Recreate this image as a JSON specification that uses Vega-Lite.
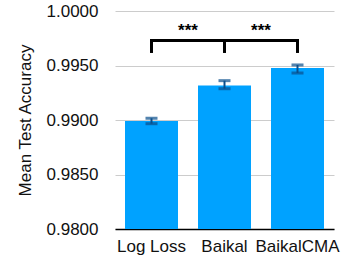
{
  "$schema": "https://vega.github.io/schema/vega-lite/v6.json",
  "width": 219,
  "height": 218,
  "autosize": {"type": "none"},
  "padding": {"left": 115, "top": 11, "right": 9, "bottom": 32},
  "background": "white",
  "config": {
    "font": "Liberation Sans",
    "view": {"stroke": null}
  },
  "datasets": {
    "acc": [
      {"loss": "Log Loss", "mean": 0.9899, "lo": 0.98966, "hi": 0.99016, "base": 0.98},
      {"loss": "Baikal", "mean": 0.99317, "lo": 0.99287, "hi": 0.99361, "base": 0.98},
      {"loss": "BaikalCMA", "mean": 0.99477, "lo": 0.99431, "hi": 0.99505, "base": 0.98}
    ],
    "bracketH": [
      {"loss": "Log Loss", "to": "BaikalCMA", "level": 0.99729}
    ],
    "bracketV": [
      {"loss": "Log Loss", "bottom": 0.99615, "top": 0.99729},
      {"loss": "Baikal", "bottom": 0.99615, "top": 0.99729},
      {"loss": "BaikalCMA", "bottom": 0.99615, "top": 0.99729}
    ],
    "stars": [
      {"loss": "Log Loss", "level": 0.99815, "label": "***"},
      {"loss": "Baikal", "level": 0.99815, "label": "***"}
    ]
  },
  "layer": [
    {
      "data": {"name": "acc"},
      "mark": {"type": "bar", "color": "#00A2FF"},
      "encoding": {
        "x": {
          "field": "loss", "type": "nominal",
          "scale": {"domain": ["Log Loss", "Baikal", "BaikalCMA"], "paddingInner": 0.274, "paddingOuter": 0.137},
          "axis": {
            "title": null, "labelAngle": 0, "ticks": false, "labelOverlap": false, "labelLimit": 0,
            "domainColor": "#000000", "domainWidth": 1.5,
            "labelFontSize": 17, "labelColor": "#111111", "labelPadding": 9
          }
        },
        "y": {
          "field": "mean", "type": "quantitative",
          "scale": {"domain": [0.98, 1.0], "zero": false, "nice": false},
          "axis": {
            "title": "Mean Test Accuracy", "values": [0.98, 0.985, 0.99, 0.995, 1.0],
            "format": ".4f", "domain": false, "ticks": false,
            "gridColor": "#CCCCCC", "gridWidth": 1,
            "labelFontSize": 17, "labelColor": "#111111", "labelPadding": 17,
            "titleFontSize": 17, "titleFontWeight": "normal", "titleColor": "#111111",
            "titlePadding": 12
          }
        },
        "y2": {"field": "base"}
      }
    },
    {
      "data": {"name": "acc"},
      "mark": {"type": "rule", "color": "#0A4E8C", "strokeWidth": 2},
      "encoding": {
        "x": {"field": "loss", "type": "nominal"},
        "y": {"field": "lo", "type": "quantitative"},
        "y2": {"field": "hi"}
      }
    },
    {
      "data": {"name": "acc"},
      "mark": {"type": "tick", "color": "#0A4E8C", "size": 12, "thickness": 3, "orient": "horizontal"},
      "encoding": {
        "x": {"field": "loss", "type": "nominal"},
        "y": {"field": "lo", "type": "quantitative"}
      }
    },
    {
      "data": {"name": "acc"},
      "mark": {"type": "tick", "color": "#0A4E8C", "size": 12, "thickness": 3, "orient": "horizontal"},
      "encoding": {
        "x": {"field": "loss", "type": "nominal"},
        "y": {"field": "hi", "type": "quantitative"}
      }
    },
    {
      "data": {"name": "bracketH"},
      "mark": {"type": "rule", "color": "#000000", "strokeWidth": 3, "strokeCap": "square"},
      "encoding": {
        "x": {"field": "loss", "type": "nominal", "bandPosition": 0.5},
        "x2": {"field": "to"},
        "y": {"field": "level", "type": "quantitative"}
      }
    },
    {
      "data": {"name": "bracketV"},
      "mark": {"type": "rule", "color": "#000000", "strokeWidth": 3},
      "encoding": {
        "x": {"field": "loss", "type": "nominal", "bandPosition": 0.5},
        "y": {"field": "bottom", "type": "quantitative"},
        "y2": {"field": "top"}
      }
    },
    {
      "data": {"name": "stars"},
      "mark": {"type": "text", "color": "#000000", "fontSize": 17, "fontWeight": "bold", "baseline": "middle", "align": "center"},
      "encoding": {
        "x": {"field": "loss", "type": "nominal", "bandPosition": 1.189},
        "y": {"field": "level", "type": "quantitative"},
        "text": {"field": "label"}
      }
    }
  ]
}
